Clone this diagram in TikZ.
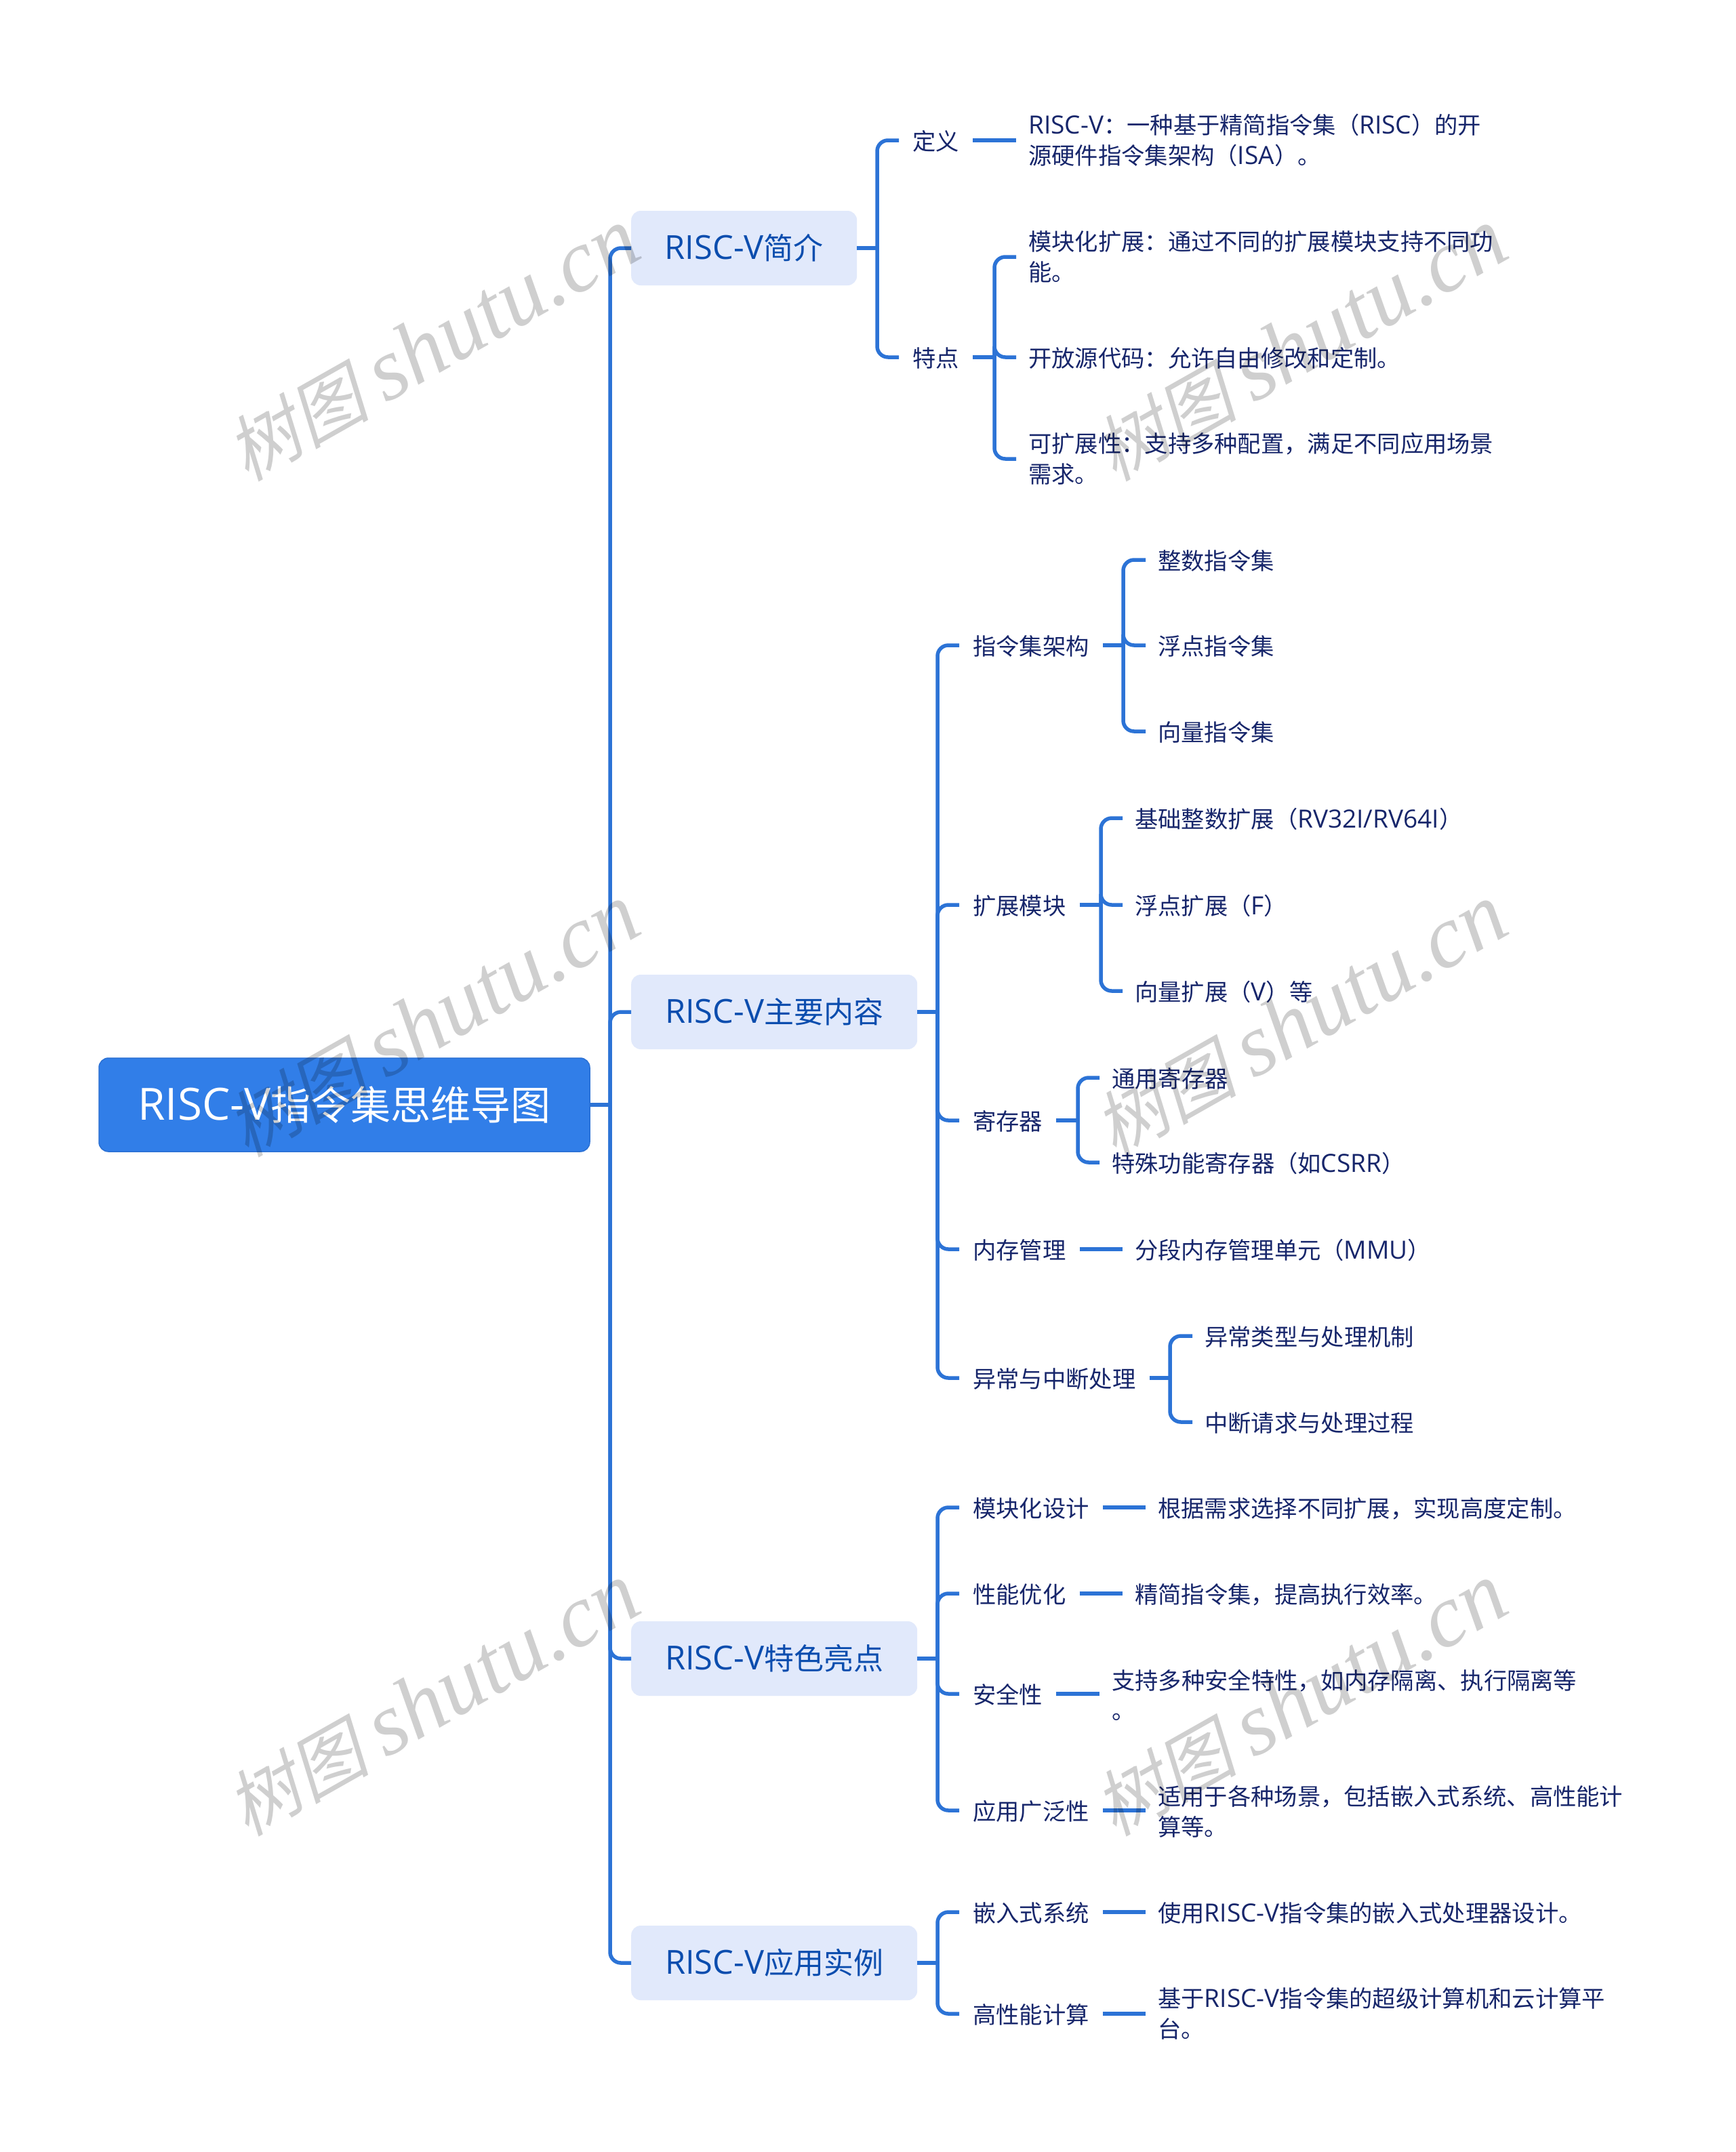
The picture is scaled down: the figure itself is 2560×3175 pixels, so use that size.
\documentclass[tikz,border=0pt]{standalone}
\usepackage{fontspec}
\setmainfont{Noto Sans CJK SC}
\newfontfamily\latf[Scale=1.08]{Open Sans}
\newfontfamily\latb[Scale=1.11]{Open Sans}
\newfontfamily\wmcjk[FakeSlant=0.22]{Noto Sans CJK SC}
\newfontfamily\wmlat{Liberation Serif}
\newcommand{\lat}[1]{{\latf #1}}
\newcommand{\latt}[1]{{\latb #1}}
\definecolor{rootfill}{HTML}{317EE8}
\definecolor{rootline}{HTML}{2A70D4}
\definecolor{boxfill}{HTML}{E1E9FB}
\definecolor{boxtext}{HTML}{0B4DAE}
\definecolor{leaftext}{HTML}{17266B}
\definecolor{linec}{HTML}{2C73D6}
\tikzset{
  rootbox/.style={rectangle,rounded corners=14pt,fill=rootfill,draw=rootline,line width=1.5pt,text=white,
    font=\fontsize{59}{70}\selectfont,minimum width=724pt,minimum height=138pt,inner sep=0pt,anchor=center},
  topicbox/.style={rectangle,rounded corners=14pt,fill=boxfill,text=boxtext,
    font=\fontsize{44}{54}\selectfont,minimum height=110pt,inner sep=0pt,anchor=west},
  item/.style={rectangle,text=leaftext,font=\fontsize{34.3}{44.5}\selectfont,align=left,
    inner xsep=20pt,inner ysep=0pt,anchor=west,execute at begin node={\rule{0pt}{32pt}}},
  leaf/.style={item,inner xsep=18pt},
  conn/.style={draw=linec,line width=5.5pt,rounded corners=16pt,line cap=butt},
  wmark/.style={text=black,text opacity=0.19,rotate=29.5,anchor=center,inner sep=0pt}
}
\newcommand{\elbow}[3]{%
  \draw[conn] (#1.east) -- (#1.east -| #2);
  \foreach \c in {#3}{\draw[conn] (#1.east -| #2) |- (\c.west);}
}
\begin{document}
\begin{tikzpicture}[x=1pt,y=-1pt]
\path[use as bounding box,fill=white] (0,0) rectangle (2560,3175);
% spines
\coordinate (sT) at (900,0);
\coordinate (s1) at (1294,0);
\coordinate (s2) at (1383,0);
\coordinate (s11) at (1467,0);
\coordinate (s21) at (1657,0);
\coordinate (s22) at (1624,0);
\coordinate (s23) at (1590,0);
\coordinate (s25) at (1726,0);
% root and topics
\node[rootbox] (root) at (508,1630) {\latt{RISC-V}指令集思维导图};
\node[topicbox,minimum width=333pt] (t1) at (931,366) {\latt{RISC-V}简介};
\node[topicbox,minimum width=422pt] (t2) at (931,1493) {\latt{RISC-V}主要内容};
\node[topicbox,minimum width=422pt] (t3) at (931,2447) {\latt{RISC-V}特色亮点};
\node[topicbox,minimum width=422pt] (t4) at (931,2896) {\latt{RISC-V}应用实例};
% topic 1
\node[item] (a1) at (1326,207) {定义};
\node[item] (a2) at (1326,527) {特点};
\node[leaf] (a1x) at (1499,207) {\lat{RISC-V}：一种基于精简指令集（\lat{RISC}）的开\\源硬件指令集架构（\lat{ISA}）。};
\node[leaf] (a21) at (1499,379) {模块化扩展：通过不同的扩展模块支持不同功\\能。};
\node[leaf] (a22) at (1499,527) {开放源代码：允许自由修改和定制。};
\node[leaf] (a23) at (1499,677) {可扩展性：支持多种配置，满足不同应用场景\\需求。};
% topic 2
\node[item] (b1) at (1415,952) {指令集架构};
\node[leaf] (b11) at (1690,826) {整数指令集};
\node[leaf] (b12) at (1690,952) {浮点指令集};
\node[leaf] (b13) at (1690,1079) {向量指令集};
\node[item] (b2) at (1415,1335) {扩展模块};
\node[leaf] (b21) at (1656,1207) {基础整数扩展（\lat{RV32I/RV64I}）};
\node[leaf] (b22) at (1656,1335) {浮点扩展（\lat{F}）};
\node[leaf] (b23) at (1656,1462) {向量扩展（\lat{V}）等};
\node[item] (b3) at (1415,1653) {寄存器};
\node[leaf] (b31) at (1622,1590) {通用寄存器};
\node[leaf] (b32) at (1622,1715) {特殊功能寄存器（如\lat{CSRR}）};
\node[item] (b4) at (1415,1843) {内存管理};
\node[leaf] (b41) at (1656,1843) {分段内存管理单元（\lat{MMU}）};
\node[item] (b5) at (1415,2033) {异常与中断处理};
\node[leaf] (b51) at (1759,1971) {异常类型与处理机制};
\node[leaf] (b52) at (1759,2098) {中断请求与处理过程};
% topic 3
\node[item] (c1) at (1415,2224) {模块化设计};
\node[leaf] (c1x) at (1690,2224) {根据需求选择不同扩展，实现高度定制。};
\node[item] (c2) at (1415,2351) {性能优化};
\node[leaf] (c2x) at (1656,2351) {精简指令集，提高执行效率。};
\node[item] (c3) at (1415,2499) {安全性};
\node[leaf] (c3x) at (1622,2501) {支持多种安全特性，如内存隔离、执行隔离等\\。};
\node[item] (c4) at (1415,2671) {应用广泛性};
\node[leaf] (c4x) at (1690,2673) {适用于各种场景，包括嵌入式系统、高性能计\\算等。};
% topic 4
\node[item] (d1) at (1415,2821) {嵌入式系统};
\node[leaf] (d1x) at (1690,2821) {使用\lat{RISC-V}指令集的嵌入式处理器设计。};
\node[item] (d2) at (1415,2971) {高性能计算};
\node[leaf] (d2x) at (1690,2971) {基于\lat{RISC-V}指令集的超级计算机和云计算平\\台。};
% connectors
\elbow{root}{sT}{t1,t2,t3,t4}
\elbow{t1}{s1}{a1,a2}
\elbow{t2}{s2}{b1,b2,b3,b4,b5}
\elbow{t3}{s2}{c1,c2,c3,c4}
\elbow{t4}{s2}{d1,d2}
\draw[conn] (a1.east) -- (a1x.west);
\elbow{a2}{s11}{a21,a22,a23}
\elbow{b1}{s21}{b11,b12,b13}
\elbow{b2}{s22}{b21,b22,b23}
\elbow{b3}{s23}{b31,b32}
\draw[conn] (b4.east) -- (b41.west);
\elbow{b5}{s25}{b51,b52}
\draw[conn] (c1.east) -- (c1x.west);
\draw[conn] (c2.east) -- (c2x.west);
\draw[conn] (c3.east) -- (c3x.west |- c3.east);
\draw[conn] (c4.east) -- (c4x.west |- c4.east);
\draw[conn] (d1.east) -- (d1x.west);
\draw[conn] (d2.east) -- (d2x.west);
% watermarks
\foreach \n/\px/\py in {w1/638/509,w2/1918/509,w3/638/1506,w4/1918/1506,w5/638/2508,w6/1918/2508}{
  \node[wmark] (\n) at (\px,\py) {{\wmcjk\fontsize{106}{120}\selectfont 树图\ }{\wmlat\itshape\fontsize{131}{140}\selectfont shutu.cn}};
}
\end{tikzpicture}
\end{document}
